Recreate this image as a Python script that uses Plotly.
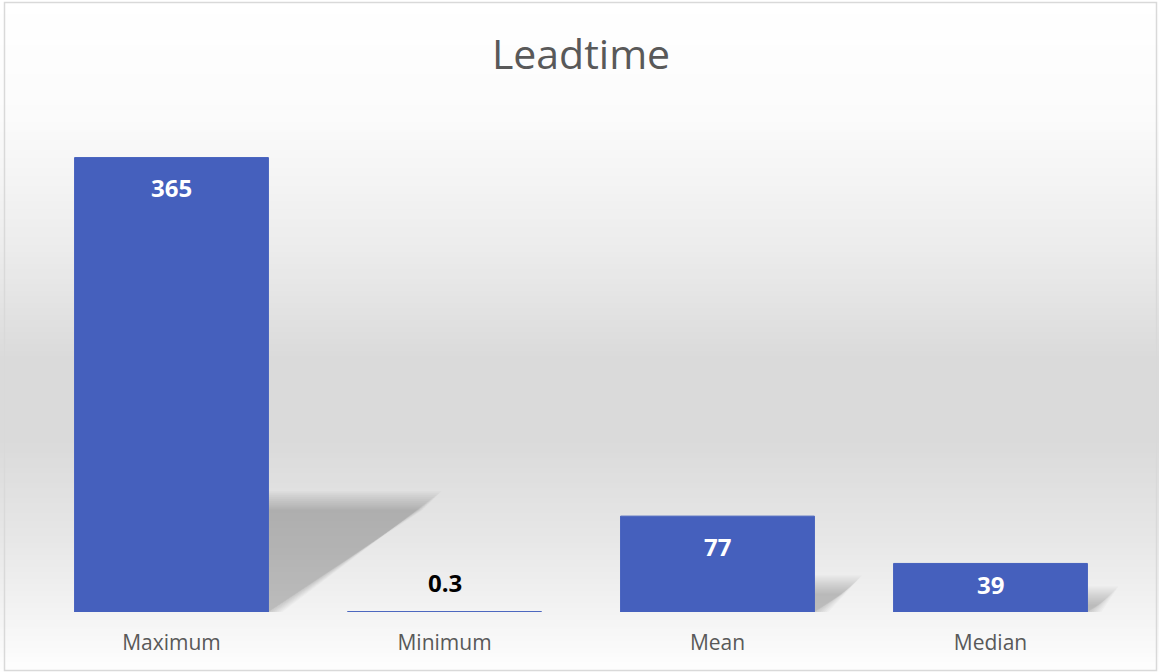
import plotly.graph_objects as go

# ---- data ----
categories = ["Maximum", "Minimum", "Mean", "Median"]
values = [365, 0.3, 77, 39]
value_labels = ["365", "0.3", "77", "39"]
title_text = "Leadtime"

# ---- geometry (pixels) ----
W, H = 1159, 672
ML, MR, MT, MB = 35, 32, 114, 60
PW, PH = W - ML - MR, H - MT - MB
YMAX = 400
BARGAP = 0.29
px_per_unit = PH / YMAX
px_per_cat = PW / len(categories)


def px_to_paper_x(px):
    return (px - ML) / PW


def px_to_paper_y(py):
    return (H - MB - py) / PH


# background vertical gradient (grey level by pixel row)
grad_stops = [(0, 255), (120, 251), (250, 236), (360, 218), (440, 218), (540, 231), (612, 243), (672, 254)]


def grey_at(py):
    for (y0, g0), (y1, g1) in zip(grad_stops[:-1], grad_stops[1:]):
        if y0 <= py <= y1:
            t = (py - y0) / (y1 - y0)
            return g0 + (g1 - g0) * t
    return grad_stops[-1][1]


shapes = []
step = 3
for py in range(0, H, step):
    g = int(round(grey_at(py + step / 2)))
    shapes.append(dict(type="rect", xref="paper", yref="paper",
                       x0=px_to_paper_x(-2), x1=px_to_paper_x(W + 2),
                       y0=px_to_paper_y(py + step + 0.5), y1=px_to_paper_y(py - 0.5),
                       line=dict(width=0), fillcolor=f"rgb({g},{g},{g})", layer="below"))

# soft perspective shadows behind bars
half = (1 - BARGAP) / 2
skew_k = 0.0016   # x-shift (category units) per value unit
height_k = 0.235  # shadow height fraction
n_layers = 10
for i, v in enumerate(values):
    if v < 1:
        continue
    dx = skew_k * v
    top = height_k * v
    for k in range(n_layers):
        e_px = (n_layers - 1 - k) * 2.0 - 4.0   # blur spread in pixels
        ex = e_px / px_per_cat
        ey = e_px / px_per_unit
        path = (f"M {i - half},0 L {i + half + max(ex, 0)},0 "
                f"L {i + half + dx + ex},{max(top + ey, 0.5)} L {i - half + dx},{max(top + ey, 0.5)} Z")
        shapes.append(dict(type="path", xref="x", yref="y", path=path,
                           line=dict(width=0), fillcolor="rgba(0,0,0,0.022)", layer="below"))

# outer chart border
shapes.append(dict(type="rect", xref="paper", yref="paper",
                   x0=px_to_paper_x(4.5), x1=px_to_paper_x(1156.5),
                   y0=px_to_paper_y(670.5), y1=px_to_paper_y(2.5),
                   line=dict(color="#d9d9d9", width=1.5), fillcolor="rgba(0,0,0,0)", layer="above"))

fig = go.Figure()
fig.add_trace(go.Bar(
    x=list(range(len(categories))), y=values,
    marker=dict(color="#4560bd", line=dict(color="#4560bd", width=1)),
    hoverinfo="skip",
))

annotations = []
for i, (v, lab) in enumerate(zip(values, value_labels)):
    h = v * px_per_unit
    if h > 60:
        shift, col = -30, "white"
    elif h > 30:
        shift, col = -21, "white"
    else:
        shift, col = 29, "black"
    annotations.append(dict(x=i, y=v, xref="x", yref="y", text=f"<b>{lab}</b>",
                            showarrow=False, yanchor="middle", yshift=shift,
                            font=dict(family="Open Sans", size=24, color=col)))

fig.update_layout(
    width=W, height=H,
    margin=dict(l=ML, r=MR, t=MT, b=MB, pad=0),
    paper_bgcolor="white", plot_bgcolor="rgba(0,0,0,0)",
    bargap=BARGAP, showlegend=False,
    title=dict(text=title_text, x=0.5, xref="paper", xanchor="center",
               y=1 - 55 / H, yanchor="middle",
               font=dict(family="Open Sans", size=41, color="#595959")),
    shapes=shapes, annotations=annotations,
    xaxis=dict(tickmode="array", tickvals=list(range(len(categories))), ticktext=categories,
               range=[-0.5, len(categories) - 0.5], showgrid=False, zeroline=False, showline=False,
               ticks="", ticklabelstandoff=16,
               tickfont=dict(family="Open Sans", size=21, color="#595959")),
    yaxis=dict(range=[0, YMAX], visible=False, showgrid=False, zeroline=False),
)

fig.write_html("out.html", config={"displayModeBar": False, "staticPlot": True},
               post_script="document.body.style.margin='0';document.body.style.overflow='hidden';")
